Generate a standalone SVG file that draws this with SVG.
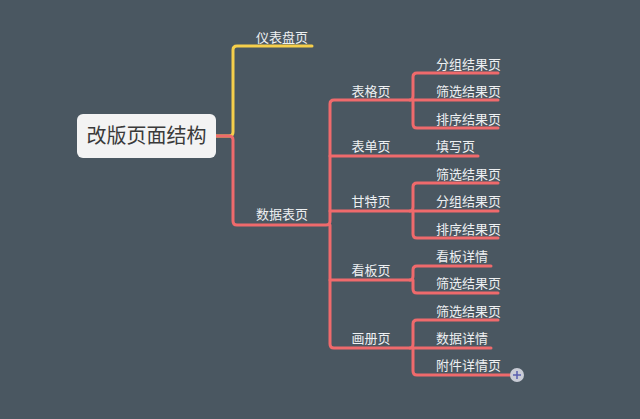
<svg xmlns="http://www.w3.org/2000/svg" width="640" height="419" viewBox="0 0 640 419">
<style>
.r{fill:none;stroke:#ef6a6c;stroke-width:3;stroke-linecap:round;stroke-linejoin:round}
.y{fill:none;stroke:#f6cf4b;stroke-width:3;stroke-linecap:round}
text{font-family:"Noto Sans CJK SC",sans-serif;font-size:13px;fill:#eef0f2}
</style>
<rect width="640" height="419" fill="#4a5761"/>
<g id="connectors">
<path class="y" d="M216 136 H229 Q233 136 233 132 V50 Q233 46 237 46 H312"/>
<path class="r" d="M216 136 H229 Q233 136 233 140 V221 Q233 225 237 225 H326 Q330 225 330 221 V104 Q330 100 334 100 H410"/>
<path class="r" d="M330 225 V344 Q330 348 334 348 H410"/>
<path class="r" d="M330 156 H478"/>
<path class="r" d="M330 211 H410"/>
<path class="r" d="M330 280 H410"/>
<path class="r" d="M410 100 Q413 100 413 96 V77 Q413 73 417 73 H498 M413 100 H498 M413 100 V124 Q413 128 417 128 H498"/>
<path class="r" d="M410 211 Q413 211 413 207 V187 Q413 183 417 183 H498 M413 211 H498 M413 211 V234 Q413 238 417 238 H498"/>
<path class="r" d="M410 280 Q413 280 413 276 V270 Q413 266 417 266 H491 M413 280 V289 Q413 293 417 293 H498"/>
<path class="r" d="M410 348 Q413 348 413 344 V324 Q413 320 417 320 H498 M413 348 H491 M413 348 V371 Q413 375 417 375 H512"/>
</g>
<g id="root"><rect x="77" y="114" width="139" height="44" rx="6" fill="#f3f3f3"/><text x="146.5" y="143" text-anchor="middle" style="font-size:20px;fill:#3a3a3a">改版页面结构</text></g>
<g id="n1"><text x="282" y="42" text-anchor="middle">仪表盘页</text></g>
<g id="n2"><text x="282" y="219" text-anchor="middle">数据表页</text></g>
<g id="n3"><text x="371" y="96" text-anchor="middle">表格页</text></g>
<g id="n4"><text x="371" y="151" text-anchor="middle">表单页</text></g>
<g id="n5"><text x="371" y="206" text-anchor="middle">甘特页</text></g>
<g id="n6"><text x="371" y="275" text-anchor="middle">看板页</text></g>
<g id="n7"><text x="371" y="343" text-anchor="middle">画册页</text></g>
<g id="l1"><text x="436" y="69">分组结果页</text></g>
<g id="l2"><text x="436" y="96">筛选结果页</text></g>
<g id="l3"><text x="436" y="124">排序结果页</text></g>
<g id="l4"><text x="436" y="151">填写页</text></g>
<g id="l5"><text x="436" y="179">筛选结果页</text></g>
<g id="l6"><text x="436" y="206">分组结果页</text></g>
<g id="l7"><text x="436" y="234">排序结果页</text></g>
<g id="l8"><text x="436" y="261">看板详情</text></g>
<g id="l9"><text x="436" y="288">筛选结果页</text></g>
<g id="l10"><text x="436" y="316">筛选结果页</text></g>
<g id="l11"><text x="436" y="343">数据详情</text></g>
<g id="l12"><text x="436" y="370">附件详情页</text></g>
<g id="plus"><circle cx="517" cy="375" r="7" fill="#c9ccd6"/><path d="M513 375 H521 M517 371 V379" stroke="#5a5fb0" stroke-width="1.5"/></g>
</svg>
